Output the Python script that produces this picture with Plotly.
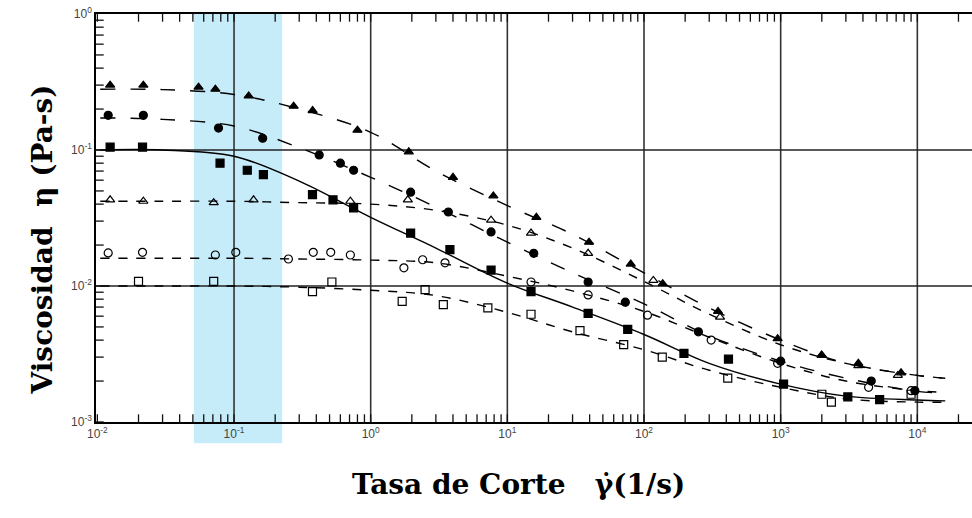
import plotly.graph_objects as go

# ---- data ----
# fitted curves (x = shear rate 1/s, y = viscosity Pa-s)
curve_x = [0.0105, 0.03, 0.1, 0.3, 1, 3, 10, 30, 100, 300, 1000, 3000, 10000, 16000]
curve_A = [0.28, 0.278, 0.256, 0.20, 0.135, 0.070, 0.039, 0.024, 0.0125, 0.0069, 0.0040, 0.0027, 0.0022, 0.0021]
curve_B = [0.172, 0.168, 0.150, 0.104, 0.063, 0.038, 0.021, 0.0125, 0.0074, 0.0043, 0.0028, 0.0021, 0.00168, 0.00163]
curve_C = [0.100, 0.100, 0.090, 0.059, 0.032, 0.019, 0.0105, 0.0070, 0.0044, 0.0027, 0.0019, 0.00155, 0.00145, 0.00143]
curve_D = [0.042, 0.042, 0.042, 0.041, 0.040, 0.036, 0.028, 0.019, 0.0108, 0.0062, 0.0037, 0.0027, 0.0022, 0.0021]
curve_E = [0.016, 0.016, 0.016, 0.0158, 0.0155, 0.0148, 0.0118, 0.0092, 0.0065, 0.0042, 0.0027, 0.0020, 0.0017, 0.00165]
curve_F = [0.0100, 0.0100, 0.0100, 0.0098, 0.0093, 0.0085, 0.0064, 0.0046, 0.0034, 0.0024, 0.0018, 0.00148, 0.0014, 0.0014]

# measured points
A_x = [0.0124, 0.0217, 0.055, 0.073, 0.128, 0.273, 0.376, 0.80, 1.9, 4.0, 7.9, 16.3, 39.6, 80, 137, 348, 950, 1990, 3700, 7600]
A_y = [0.30, 0.30, 0.29, 0.28, 0.25, 0.21, 0.195, 0.14, 0.097, 0.063, 0.046, 0.032, 0.021, 0.0145, 0.0104, 0.0065, 0.0041, 0.0031, 0.0027, 0.0023]
B_x = [0.0120, 0.0217, 0.077, 0.162, 0.42, 0.60, 0.75, 1.96, 3.7, 7.6, 15.6, 39, 73, 250, 1000, 4600, 9600]
B_y = [0.18, 0.18, 0.145, 0.122, 0.092, 0.080, 0.071, 0.049, 0.035, 0.025, 0.0174, 0.0107, 0.0076, 0.0046, 0.0028, 0.0020, 0.0017]
C_x = [0.0124, 0.0214, 0.079, 0.125, 0.164, 0.375, 0.53, 0.75, 1.96, 3.8, 7.6, 14.9, 39, 76, 196, 415, 1050, 3100, 5300]
C_y = [0.105, 0.105, 0.080, 0.071, 0.066, 0.047, 0.043, 0.0375, 0.0245, 0.0185, 0.0131, 0.0091, 0.0063, 0.0048, 0.0032, 0.0029, 0.0019, 0.00153, 0.00146]
D_x = [0.0124, 0.0217, 0.071, 0.139, 0.71, 1.87, 7.6, 14.9, 39, 117, 360, 2000, 3700, 7200]
D_y = [0.043, 0.042, 0.041, 0.043, 0.042, 0.043, 0.0305, 0.0245, 0.0174, 0.0110, 0.0059, 0.0031, 0.0026, 0.0022]
E_x = [0.0120, 0.0214, 0.073, 0.103, 0.25, 0.38, 0.51, 0.71, 1.75, 2.4, 3.5, 14.9, 39, 106, 310, 950, 4400, 9000]
E_y = [0.0175, 0.0177, 0.0169, 0.0177, 0.0158, 0.0177, 0.0177, 0.0169, 0.0136, 0.0156, 0.0148, 0.0107, 0.0086, 0.0061, 0.0040, 0.0027, 0.0018, 0.0017]
F_x = [0.020, 0.071, 0.375, 0.52, 1.7, 2.5, 3.4, 7.2, 14.9, 34, 71, 136, 410, 2000, 2350, 9000]
F_y = [0.0108, 0.0108, 0.0091, 0.0107, 0.0077, 0.0094, 0.0073, 0.0069, 0.0062, 0.0047, 0.0037, 0.0030, 0.0021, 0.0016, 0.0014, 0.0016]

# decade tick labels
x_decades = [0.01, 0.1, 1, 10, 100, 1000, 10000]
x_labels = ["10<sup>-2</sup>", "10<sup>-1</sup>", "10<sup>0</sup>", "10<sup>1</sup>",
            "10<sup>2</sup>", "10<sup>3</sup>", "10<sup>4</sup>"]
y_decades = [0.001, 0.01, 0.1, 1]
y_labels = ["10<sup>-3</sup>", "10<sup>-2</sup>", "10<sup>-1</sup>", "10<sup>0</sup>"]
band_x = [0.0509, 0.225]

X_RANGE = [-2.01, 4.4]
Y_RANGE = [-3.0, 0.0]

# tick mark positions: every 1..9 multiple within each decade
x_tick_pos = [m * d for d in x_decades for m in range(1, 10) if m * d <= 20000]
y_tick_pos = [m * d for d in y_decades[:-1] for m in range(1, 10)]
x_edge = 10 ** X_RANGE[0]
y_bottom, y_top = 10 ** Y_RANGE[0], 10 ** Y_RANGE[1]

fig = go.Figure()

curves = [(curve_A, "longdash"), (curve_B, "longdash"), (curve_C, "solid"),
          (curve_D, "dash"), (curve_E, "dash"), (curve_F, "dash")]
for cy, dash in curves:
    fig.add_trace(go.Scatter(x=curve_x, y=cy, mode="lines",
                             line=dict(color="black", width=1.4, dash=dash, shape="spline"),
                             showlegend=False, hoverinfo="skip"))

pts = [(A_x, A_y, "triangle-up"), (B_x, B_y, "circle"), (C_x, C_y, "square"),
       (D_x, D_y, "triangle-up-open"), (E_x, E_y, "circle-open"), (F_x, F_y, "square-open")]
for px, py, sym in pts:
    fig.add_trace(go.Scatter(x=px, y=py, mode="markers",
                             marker=dict(symbol=sym, size=8, color="black",
                                         line=dict(color="black", width=1.2)),
                             showlegend=False))

# inside tick marks drawn as clipped line markers on the frame edges
tick_marker_v = dict(symbol="line-ns", size=11, color="black", line=dict(color="#111111", width=1.3))
tick_marker_h = dict(symbol="line-ew", size=11, color="black", line=dict(color="#111111", width=1.3))
for yy in (y_bottom, y_top):
    fig.add_trace(go.Scatter(x=x_tick_pos, y=[yy] * len(x_tick_pos), mode="markers",
                             marker=tick_marker_v, showlegend=False, hoverinfo="skip",
                             cliponaxis=True))
fig.add_trace(go.Scatter(x=[x_edge] * len(y_tick_pos), y=y_tick_pos, mode="markers",
                         marker=tick_marker_h, showlegend=False, hoverinfo="skip",
                         cliponaxis=True))

# highlighted band
fig.add_shape(type="rect", xref="x", yref="paper", x0=band_x[0], x1=band_x[1],
              y0=-0.052, y1=1.0, fillcolor="#c6ecfa", line=dict(width=0), layer="below")
# decade grid lines
for d in x_decades[1:]:
    fig.add_shape(type="line", xref="x", yref="paper", x0=d, x1=d, y0=0, y1=1,
                  line=dict(color="#333333", width=1.6), layer="below")
for d in y_decades[1:-1]:
    fig.add_shape(type="line", xref="paper", yref="y", x0=0, x1=1, y0=d, y1=d,
                  line=dict(color="#222222", width=1.6), layer="below")

tickfont = dict(family="Liberation Sans", size=12, color="#444444")
fig.update_xaxes(type="log", range=X_RANGE, tickmode="array", tickvals=x_decades, ticktext=x_labels,
                 tickangle=0, showline=True, linecolor="black", linewidth=1.5, mirror=True,
                 showgrid=False, zeroline=False, ticks="", tickfont=tickfont)
fig.update_yaxes(type="log", range=Y_RANGE, tickmode="array", tickvals=y_decades, ticktext=y_labels,
                 showline=True, linecolor="black", linewidth=1.5, mirror=False,
                 showgrid=False, zeroline=False, ticks="", tickfont=tickfont)

fig.add_annotation(text="<b>Tasa de Corte   γ̇(1/s)</b>", xref="paper", yref="paper",
                   x=(518 - 96) / 876, y=-(503 - 422) / 408, showarrow=False,
                   font=dict(family="DejaVu Serif", size=28, color="black"))
fig.add_annotation(text="<b>Viscosidad  η (Pa-s)</b>", xref="paper", yref="paper",
                   x=-(96 - 23) / 876, y=(422 - 240) / 408, showarrow=False, textangle=-90,
                   font=dict(family="DejaVu Serif", size=28, color="black"))

fig.update_layout(width=972, height=518, margin=dict(l=96, r=0, t=14, b=96),
                  plot_bgcolor="white", paper_bgcolor="white", showlegend=False)

fig.write_html("out.html")
